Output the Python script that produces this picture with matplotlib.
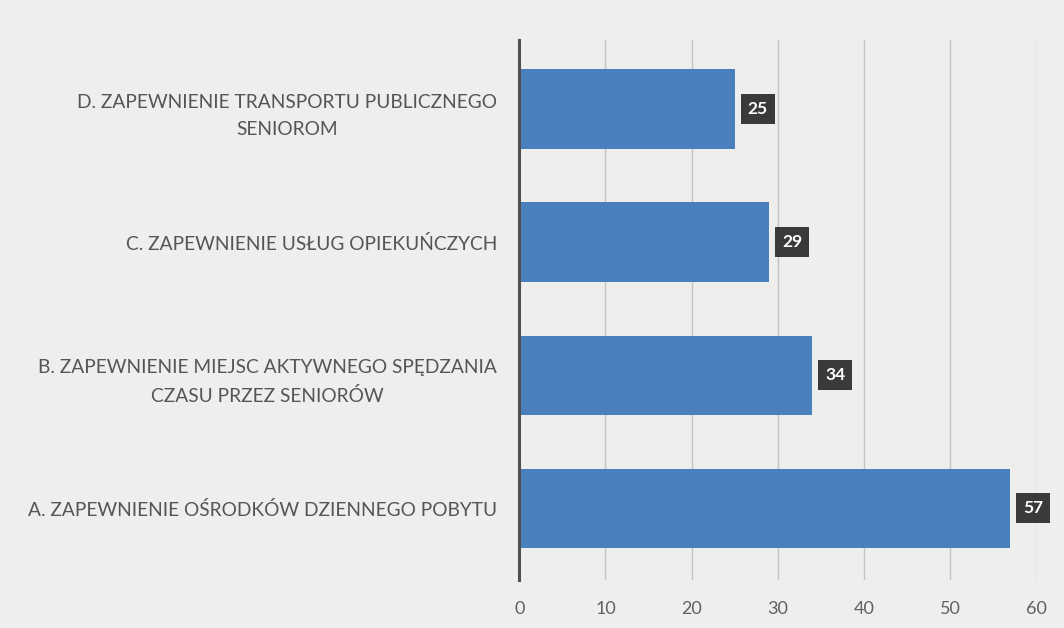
import matplotlib.pyplot as plt

CATEGORIES = [
    "A. ZAPEWNIENIE OŚRODKÓW DZIENNEGO POBYTU",
    "B. ZAPEWNIENIE MIEJSC AKTYWNEGO SPĘDZANIA\nCZASU PRZEZ SENIORÓW",
    "C. ZAPEWNIENIE USŁUG OPIEKUŃCZYCH",
    "D. ZAPEWNIENIE TRANSPORTU PUBLICZNEGO\nSENIOROM",
]
VALUES = [57, 34, 29, 25]
XTICKS = [0, 10, 20, 30, 40, 50, 60]

BAR = "#4a80bd"
BG = "#eeeeec"

plt.rcParams["font.family"] = ["Lato", "DejaVu Sans"]

fig = plt.figure(figsize=(10.64, 6.28), dpi=100, facecolor=BG)
ax = fig.add_axes([0.488, 0.076, 0.486, 0.860])
ax.set_facecolor(BG)

y = list(range(len(CATEGORIES)))
ax.barh(y, VALUES, height=0.6, color=BAR, zorder=3)

# dark value boxes right of each bar
for yi, v in zip(y, VALUES):
    ax.text(v + 1.5, yi, str(v), ha="left", va="center", color="white",
            fontsize=12.5, fontweight="bold", zorder=4,
            bbox=dict(boxstyle="square,pad=0.4", fc="#3a3a3a", ec="none"))

ax.set_xlim(0, 60)
ax.set_ylim(-0.54, 3.52)
ax.set_xticks(XTICKS)
ax.set_yticks(y)
ax.set_yticklabels(CATEGORIES, multialignment="center", linespacing=1.7)
ax.tick_params(axis="y", length=0, pad=16, labelsize=13.8, colors="#555555")
ax.tick_params(axis="x", length=0, pad=15, labelsize=13, colors="#606060")

ax.grid(axis="x", color="#c4c4c4", linewidth=1.0, zorder=0)
for s in ["top", "right", "bottom"]:
    ax.spines[s].set_visible(False)
ax.spines["left"].set_color("#505050")
ax.spines["left"].set_linewidth(2.2)
ax.spines["left"].set_zorder(5)

fig.savefig("out.png", dpi=100, facecolor=BG)
